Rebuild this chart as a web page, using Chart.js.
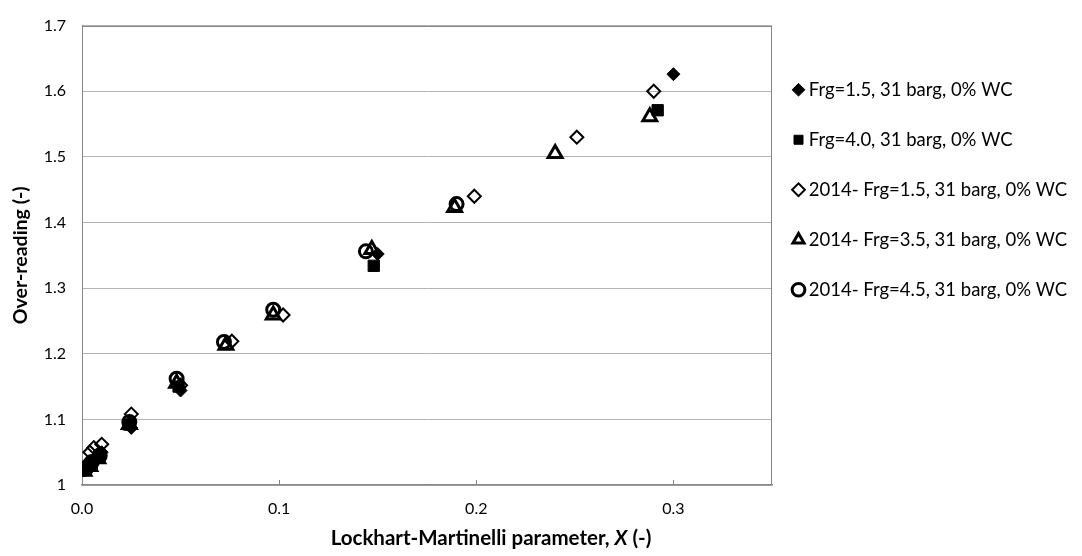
<!DOCTYPE html>
<html>
<head>
<meta charset="utf-8">
<script src="https://cdn.jsdelivr.net/npm/chart.js@4.4.1/dist/chart.umd.min.js"></script>
<style>
  html, body { margin: 0; padding: 0; background: #fff; }
  #wrap { width: 1082px; height: 556px; position: relative; }
</style>
</head>
<body>
<div id="wrap"><canvas id="grafico"></canvas></div>
<script>
// Over-reading against the Lockhart-Martinelli parameter, 31 barg, 0% WC
const xTicks = [0, 0.1, 0.2, 0.3];
const yTicks = [1, 1.1, 1.2, 1.3, 1.4, 1.5, 1.6, 1.7];

const nomes = [
  'Frg=1.5, 31 barg, 0% WC',
  'Frg=4.0, 31 barg, 0% WC',
  '2014- Frg=1.5, 31 barg, 0% WC',
  '2014- Frg=3.5, 31 barg, 0% WC',
  '2014- Frg=4.5, 31 barg, 0% WC'
];

const frg15X = [0.001, 0.004, 0.007, 0.010, 0.025, 0.050, 0.150, 0.300];
const frg15Y = [1.022, 1.030, 1.038, 1.050, 1.087, 1.144, 1.352, 1.626];

const frg40X = [0.001, 0.005, 0.009, 0.024, 0.049, 0.148, 0.292];
const frg40Y = [1.024, 1.033, 1.045, 1.092, 1.150, 1.334, 1.571];

const frg15_2014X = [0.002, 0.004, 0.006, 0.010, 0.025, 0.050, 0.076, 0.102, 0.199, 0.251, 0.290];
const frg15_2014Y = [1.030, 1.050, 1.057, 1.062, 1.108, 1.152, 1.219, 1.259, 1.440, 1.530, 1.600];

const frg35_2014X = [0.001, 0.004, 0.008, 0.024, 0.048, 0.073, 0.097, 0.147, 0.189, 0.240, 0.288];
const frg35_2014Y = [1.021, 1.028, 1.040, 1.092, 1.155, 1.213, 1.259, 1.359, 1.423, 1.505, 1.561];

const frg45_2014X = [0.002, 0.005, 0.009, 0.024, 0.048, 0.072, 0.097, 0.144, 0.190];
const frg45_2014Y = [1.025, 1.035, 1.045, 1.096, 1.162, 1.218, 1.267, 1.356, 1.428];

const FONTE = 'Lato';
const pontos = (xs, ys) => xs.map((x, i) => ({ x, y: ys[i] }));

const series = [
  { label: nomes[0], data: pontos(frg15X, frg15Y), pointStyle: 'rectRot', pointRadius: 6.5,
    backgroundColor: '#000', borderColor: '#000', borderWidth: 1, order: 4 },
  { label: nomes[1], data: pontos(frg40X, frg40Y), pointStyle: 'rect', pointRadius: 8,
    backgroundColor: '#000', borderColor: '#000', borderWidth: 1, order: 3 },
  { label: nomes[2], data: pontos(frg15_2014X, frg15_2014Y), pointStyle: 'rectRot', pointRadius: 6.5,
    backgroundColor: 'rgba(0,0,0,0)', borderColor: '#000', borderWidth: 2, order: 2 },
  { label: nomes[3], data: pontos(frg35_2014X, frg35_2014Y), pointStyle: 'triangle', pointRadius: 8,
    backgroundColor: 'rgba(0,0,0,0)', borderColor: '#000', borderWidth: 3, order: 1 },
  { label: nomes[4], data: pontos(frg45_2014X, frg45_2014Y), pointStyle: 'circle', pointRadius: 6.5,
    backgroundColor: 'rgba(0,0,0,0)', borderColor: '#000', borderWidth: 3, order: 0 }
];

// plot frame, inner tick marks and the x title (with italic X)
const moldura = {
  id: 'moldura',
  afterLayout(chart) {
    chart.legend.left = chart.chartArea.right - 6;
    chart.legend.top = 49;
  },
  beforeDatasetsDraw(chart) {
    const { ctx, chartArea: a, scales: { x } } = chart;
    ctx.save();
    ctx.strokeStyle = '#868686';
    ctx.lineWidth = 1;
    ctx.strokeRect(Math.round(a.left) + 0.5, Math.round(a.top) + 0.5,
      Math.round(a.width) - 1, Math.round(a.height) - 1);
    xTicks.slice(1).forEach(v => {
      const px = Math.round(x.getPixelForValue(v)) + 0.5;
      ctx.beginPath();
      ctx.moveTo(px, a.bottom);
      ctx.lineTo(px, a.bottom - 5);
      ctx.stroke();
    });
    ctx.restore();
  },
  afterDraw(chart) {
    const { ctx } = chart;
    const partes = [
      ['Lockhart-Martinelli parameter, ', `bold 20.5px ${FONTE}`],
      ['X', `italic bold 20.5px ${FONTE}`],
      [' (-)', `bold 20.5px ${FONTE}`]
    ];
    ctx.save();
    ctx.fillStyle = '#000';
    ctx.textBaseline = 'middle';
    ctx.textAlign = 'left';
    let total = 0;
    partes.forEach(([t, f]) => { ctx.font = f; total += ctx.measureText(t).width; });
    let px = 491 - total / 2;
    partes.forEach(([t, f]) => {
      ctx.font = f;
      ctx.fillText(t, px, 538);
      px += ctx.measureText(t).width;
    });
    ctx.restore();
  }
};

Chart.defaults.font.family = FONTE;
Chart.defaults.color = '#000';

new Chart(document.getElementById('grafico'), {
  type: 'scatter',
  data: { datasets: series },
  options: {
    responsive: true,
    maintainAspectRatio: false,
    animation: false,
    layout: { padding: { top: 20, right: 5, bottom: 0, left: 0 } },
    plugins: {
      tooltip: { enabled: false },
      legend: {
        position: 'right',
        align: 'start',
        maxWidth: 305,
        labels: {
          usePointStyle: true,
          boxWidth: 2,
          boxHeight: 9,
          padding: 31.5,
          color: '#000',
          font: { size: 18.5 },
          sort: (a, b) => a.datasetIndex - b.datasetIndex
        }
      }
    },
    scales: {
      x: {
        type: 'linear',
        min: 0,
        max: 0.35,
        afterFit: s => { s.height = 71; },
        afterBuildTicks: s => { s.ticks = xTicks.map(v => ({ value: v })); },
        grid: { display: false, drawTicks: false },
        border: { display: true, color: '#868686', width: 1.5 },
        ticks: {
          padding: 14,
          font: { size: 16 },
          callback: v => v.toFixed(1)
        }
      },
      y: {
        type: 'linear',
        min: 1,
        max: 1.7,
        afterFit: s => { s.width = 82; },
        afterBuildTicks: s => { s.ticks = yTicks.map(v => ({ value: v })); },
        grid: { color: '#b3b3b3', drawTicks: false },
        border: { display: true, color: '#868686', width: 1 },
        ticks: {
          padding: 16,
          font: { size: 16 },
          callback: v => (v === 1 ? '1' : v.toFixed(1))
        },
        title: {
          display: true,
          text: 'Over-reading (-)',
          font: { size: 19.5, weight: 'bold' },
          padding: { top: 9, bottom: 0 }
        }
      }
    }
  },
  plugins: [moldura]
});
</script>
</body>
</html>
